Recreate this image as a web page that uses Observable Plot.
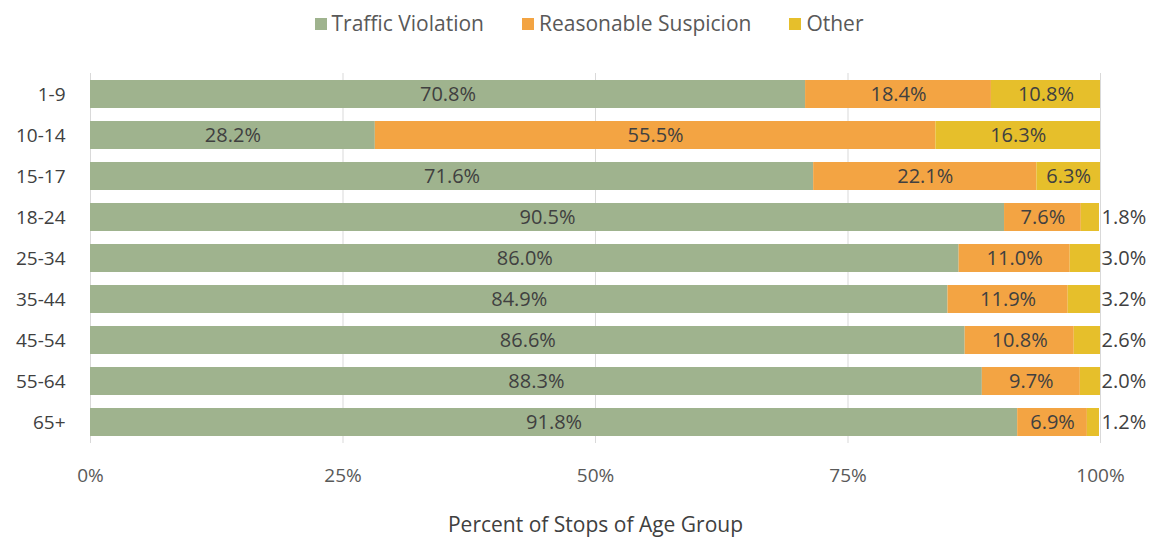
<!DOCTYPE html>
<html>
<head>
<meta charset="utf-8">
<script src="https://cdn.jsdelivr.net/npm/d3@7"></script>
<script src="https://cdn.jsdelivr.net/npm/@observablehq/plot@0.6"></script>
<style>
  body { margin: 0; background: #fff; font-family: "Open Sans", sans-serif; }
  #legend { height: 45px; display: flex; justify-content: center; align-items: center; gap: 38px; font-size: 21px; color: #595959; padding-left: 27px; box-sizing: border-box; }
  #legend span.sw { display: inline-block; width: 12px; height: 12px; margin-right: 5px; vertical-align: middle; position: relative; top: -1px; }
  #chart svg { display: block; }
</style>
</head>
<body>
<div id="legend"></div>
<div id="chart"></div>
<script>
const ages = ["1-9", "10-14", "15-17", "18-24", "25-34", "35-44", "45-54", "55-64", "65+"];
const types = ["Traffic Violation", "Reasonable Suspicion", "Other"];
const colors = ["#9fb38e", "#f3a443", "#e6bf2b"];
const traffic = [70.8, 28.2, 71.6, 90.5, 86.0, 84.9, 86.6, 88.3, 91.8];
const suspicion = [18.4, 55.5, 22.1, 7.6, 11.0, 11.9, 10.8, 9.7, 6.9];
const other = [10.8, 16.3, 6.3, 1.8, 3.0, 3.2, 2.6, 2.0, 1.2];
const xTicks = [0, 25, 50, 75, 100];

const data = [];
ages.forEach((a, i) => {
  data.push({age: a, type: types[0], value: traffic[i]});
  data.push({age: a, type: types[1], value: suspicion[i]});
  data.push({age: a, type: types[2], value: other[i]});
});
const isOutside = d => d.type === "Other" && d.value < 5;
const outside = data.filter(isOutside);

const legend = document.getElementById("legend");
types.forEach((t, i) => {
  const el = document.createElement("div");
  el.innerHTML = `<span class="sw" style="background:${colors[i]}"></span>${t}`;
  legend.appendChild(el);
});

const stackOpts = {x: "value", y: "age", z: "type", order: types};

const chart = Plot.plot({
  width: 1151,
  height: 493,
  marginLeft: 90,
  marginRight: 51,
  marginTop: 28,
  marginBottom: 95,
  style: {fontFamily: "Open Sans, sans-serif", fontSize: "18px", color: "#404040", background: "#fff"},
  x: {domain: [0, 100], label: null},
  y: {domain: ages, paddingInner: 0.32, paddingOuter: 0.16, label: null},
  color: {domain: types, range: colors},
  marks: [
    Plot.ruleX(xTicks, {stroke: "#d9d9d9", strokeWidth: 1}),
    Plot.barX(data, Plot.stackX({...stackOpts, fill: "type"})),
    Plot.text(data, Plot.stackX({...stackOpts, text: d => isOutside(d) ? "" : d.value.toFixed(1) + "%", fill: "#404040", fontSize: 20})),
    Plot.text(outside, {x: () => 100, y: "age", text: d => d.value.toFixed(1) + "%", textAnchor: "start", dx: 1, fill: "#404040", fontSize: 20}),
    Plot.axisY({tickSize: 0, tickPadding: 25, fontSize: 19, fill: "#404040", label: null}),
    Plot.axisX(xTicks, {tickSize: 0, tickPadding: 25, tickFormat: d => d + "%", fontSize: 19, fill: "#595959", label: null}),
    Plot.text(["Percent of Stops of Age Group"], {frameAnchor: "bottom", dy: 88, fontSize: 21, fill: "#404040"})
  ]
});
document.getElementById("chart").appendChild(chart);
</script>
</body>
</html>
